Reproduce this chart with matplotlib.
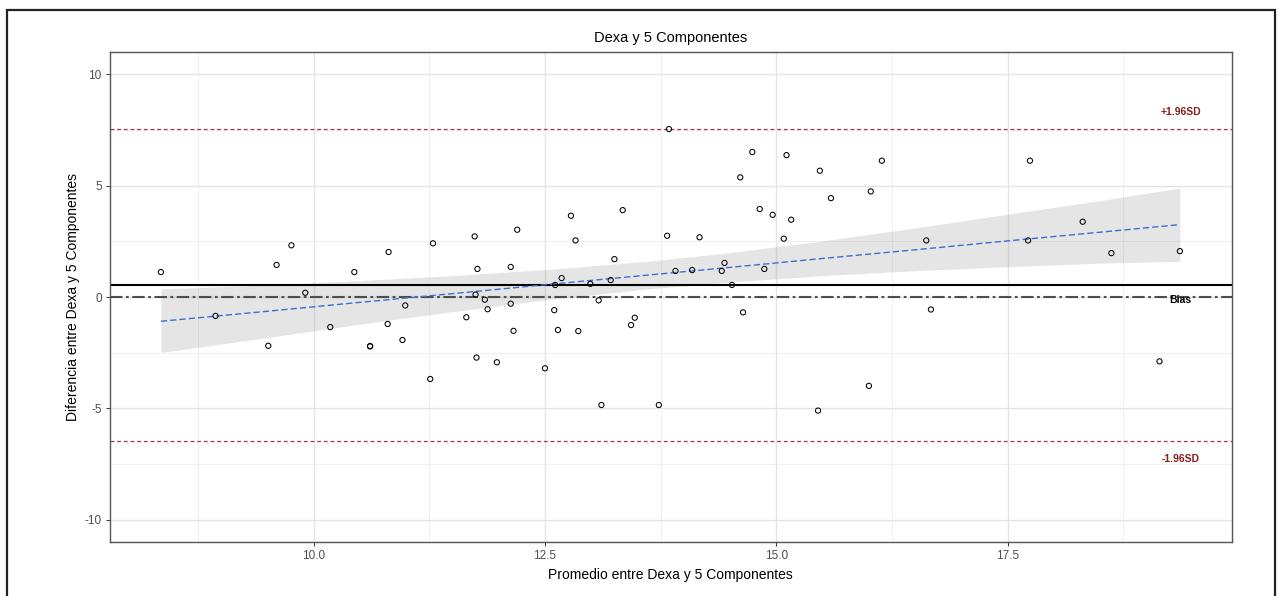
import matplotlib
matplotlib.use("Agg")
import matplotlib.pyplot as plt
from matplotlib.patches import Rectangle
from matplotlib.ticker import MultipleLocator

plt.rcParams["font.family"] = ["Liberation Sans", "DejaVu Sans"]
plt.rcParams["lines.scale_dashes"] = False
plt.rcParams["axes.unicode_minus"] = False

# promedio (x) y diferencia (y) entre Dexa y 5 Componentes
promedio = [8.35, 8.94, 9.51, 9.60, 9.76, 9.91, 10.18, 10.44, 10.61, 10.61,
            10.80, 10.81, 10.96, 10.99, 11.26, 11.29, 11.65, 11.74, 11.75, 11.76,
            11.77, 11.85, 11.88, 11.98, 12.13, 12.13, 12.16, 12.20, 12.50, 12.60,
            12.61, 12.64, 12.68, 12.78, 12.83, 12.86, 12.99, 13.08, 13.11, 13.21,
            13.25, 13.34, 13.43, 13.47, 13.73, 13.82, 13.84, 13.91, 14.09, 14.17,
            14.41, 14.44, 14.52, 14.61, 14.64, 14.74, 14.82, 14.87, 14.96, 15.08,
            15.11, 15.16, 15.45, 15.47, 15.59, 16.00, 16.02, 16.14, 16.62, 16.67,
            17.72, 17.74, 18.31, 18.62, 19.14, 19.36]
diferencia = [1.12, -0.85, -2.19, 1.44, 2.32, 0.19, -1.35, 1.12, -2.20, -2.22,
              -1.21, 2.02, -1.93, -0.38, -3.68, 2.41, -0.91, 2.72, 0.11, -2.72,
              1.26, -0.12, -0.55, -2.93, 1.35, -0.30, -1.52, 3.02, -3.20, -0.59,
              0.54, -1.48, 0.85, 3.65, 2.54, -1.53, 0.59, -0.15, -4.85, 0.76,
              1.70, 3.90, -1.26, -0.93, -4.85, 2.75, 7.54, 1.17, 1.21, 2.68,
              1.17, 1.53, 0.54, 5.37, -0.69, 6.51, 3.95, 1.26, 3.69, 2.62,
              6.37, 3.47, -5.10, 5.67, 4.44, -3.99, 4.74, 6.12, 2.54, -0.56,
              2.54, 6.12, 3.38, 1.97, -2.89, 2.06]

# linea suavizada y banda de confianza
suav_x = [8.35, 9.5, 10.5, 11.5, 12.5, 13.6, 14.5, 15.5, 16.5, 17.5, 18.5, 19.36]
suav_y = [-1.09, -0.64, -0.24, 0.15, 0.55, 0.98, 1.33, 1.73, 2.12, 2.52, 2.91, 3.25]
suav_lo = [-2.49, -1.82, -1.22, -0.66, -0.13, 0.36, 0.67, 0.96, 1.18, 1.36, 1.52, 1.60]
suav_hi = [0.36, 0.54, 0.74, 0.96, 1.23, 1.60, 1.99, 2.52, 3.10, 3.72, 4.33, 4.89]

media = 0.53
sd_sup = 7.54
sd_inf = -6.48
sesgo = 0.0
etiquetas = ["+1.96SD", "Bias", "-1.96SD"]
etiq_y = [8.32, -0.15, -7.26]
etiq_x = 19.37


def main():
    fig = plt.figure(figsize=(12.81, 5.96), dpi=100)
    ax = fig.add_axes([110 / 1281, 1 - 542 / 596, 1121.7 / 1281, 490 / 596])

    ax.set_xlim(7.80, 19.92)
    ax.set_ylim(-11, 11)
    ax.xaxis.set_major_locator(MultipleLocator(2.5))
    ax.xaxis.set_minor_locator(MultipleLocator(1.25))
    ax.yaxis.set_major_locator(MultipleLocator(5))
    ax.yaxis.set_minor_locator(MultipleLocator(2.5))
    ax.grid(which="major", color="#e4e4e4", lw=1.0)
    ax.grid(which="minor", color="#eeeeee", lw=0.6)
    ax.set_axisbelow(True)
    ax.set_xticks([10.0, 12.5, 15.0, 17.5])
    ax.set_xticklabels(["10.0", "12.5", "15.0", "17.5"])
    ax.tick_params(which="minor", length=0)
    ax.tick_params(which="major", length=3, width=0.7, color="#333333",
                   labelcolor="#4d4d4d", labelsize=8.5, pad=3)
    for s in ax.spines.values():
        s.set_color("#555555")
        s.set_linewidth(1.0)

    ax.fill_between(suav_x, suav_lo, suav_hi, color="#999999", alpha=0.25,
                    lw=0, zorder=2)
    ax.plot(suav_x, suav_y, color="#3d6fd0", lw=1.0, dashes=(4.5, 2.2), zorder=3)

    ax.axhline(sd_sup, color="#a8384a", lw=0.9, dashes=(2.8, 2.0), zorder=2.5)
    ax.axhline(sd_inf, color="#a8384a", lw=0.9, dashes=(2.8, 2.0), zorder=2.5)
    ax.axhline(media, color="black", lw=1.5, zorder=2.5)
    ax.axhline(sesgo, color="#4d4d4d", lw=1.5, dashes=(9, 2.5, 2, 2.5), zorder=2.5)

    ax.scatter(promedio, diferencia, s=14, facecolors="none", edgecolors="black",
               linewidths=0.75, zorder=4)

    colores = ["#8b1a1a", "black", "#8b1a1a"]
    for t, y, c in zip(etiquetas, etiq_y, colores):
        ax.text(etiq_x, y, t, color=c, fontsize=7.5, fontweight="bold",
                ha="center", va="center", zorder=5)

    ax.set_title("Dexa y 5 Componentes", fontsize=10.5, pad=7)
    ax.set_xlabel("Promedio entre Dexa y 5 Componentes", fontsize=10, labelpad=4)
    ax.set_ylabel("Diferencia entre Dexa y 5 Componentes", fontsize=10, labelpad=3)

    fig.patches.append(Rectangle((7 / 1281, -0.1), 1268 / 1281, 1.1 - 10 / 596,
                                 transform=fig.transFigure, fill=False,
                                 edgecolor="#222222", lw=1.6))

    fig.savefig("out.png", dpi=100)


if __name__ == "__main__":
    main()
